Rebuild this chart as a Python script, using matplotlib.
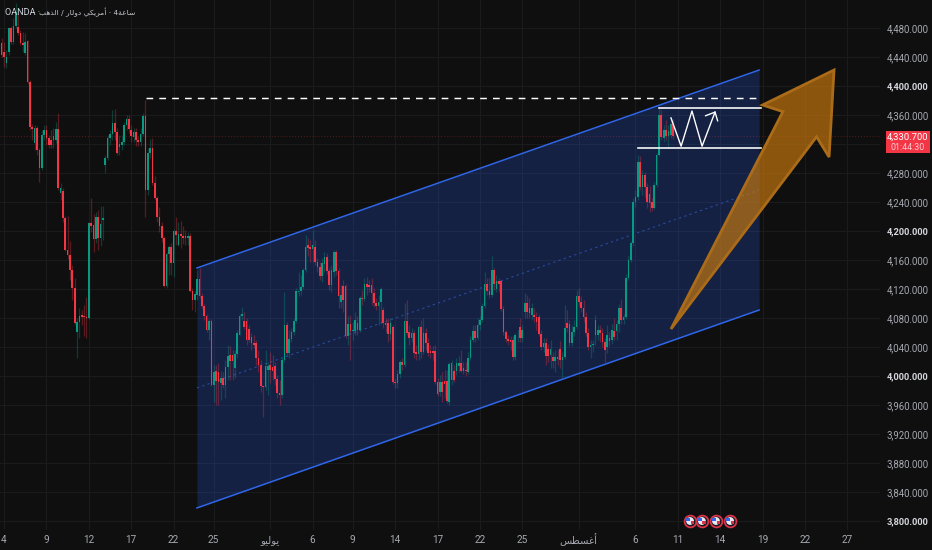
import matplotlib
matplotlib.use("Agg")
import matplotlib.pyplot as plt
from matplotlib.patches import Polygon, Rectangle
import numpy as np

# --- candle data (4h bars, price) ---
first_bar = -1
opens = [4459,4447,4432,4447,4480,4461,4483,4481,4473,4459,
 4446,4462,4405,4343,4321,4342,4312,4287,4332,4339,
 4328,4326,4326,4326,4341,4252,4255,4218,4174,4167,
 4146,4121,4061,4075,4084,4083,4081,4080,4211,4208,
 4189,4219,4190,4215,4291,4301,4328,4334,4349,4337,
 4316,4319,4323,4346,4354,4339,4330,4337,4326,4323,
 4334,4359,4257,4308,4315,4266,4246,4219,4207,4190,
 4124,4168,4178,4156,4200,4181,4196,4193,4193,4191,
 4193,4117,4105,4112,4134,4110,4097,4083,4064,4076,
 3988,4007,4006,3990,3997,3988,4012,4029,4029,4011,
 4030,4057,4083,4076,4076,4065,4054,4046,4046,4025,
 4015,3986,3985,4008,4015,4012,4014,3996,3977,3974,
 4022,4070,4032,4051,4061,4076,4116,4117,4123,4146,
 4181,4178,4175,4178,4157,4150,4138,4155,4164,4145,
 4126,4143,4171,4145,4102,4124,4124,4055,4072,4062,
 4062,4073,4063,4108,4106,4127,4126,4126,4114,4101,
 4097,4102,4091,4073,4073,4058,4068,3992,3990,4003,
 4019,4015,4076,4061,4052,4059,4033,4030,4068,4033,
 4059,4046,4034,4034,4034,3992,3978,3992,3993,3993,
 3964,3994,4007,4007,4014,4018,4011,4008,4005,4025,
 4050,4062,4052,4070,4077,4097,4127,4117,4112,4146,
 4120,4131,4131,4092,4061,4051,4050,4050,4026,4056,
 4068,4052,4088,4101,4094,4084,4084,4081,4081,4058,
 4040,4046,4037,4029,4026,4021,4026,4037,4022,4026,
 4073,4072,4046,4061,4068,4110,4102,4094,4081,4059,
 4040,4043,4057,4057,4063,4059,4047,4040,4052,4050,
 4062,4062,4072,4094,4077,4081,4135,4160,4183,4240,
 4247,4295,4261,4277,4261,4251,4240,4232,4263,4305,
 4360,4328,4339,4331,4332,4348]
closes = [4443,4440,4440,4480,4461,4483,4502,4473,4459,4456,
 4461,4405,4343,4341,4342,4312,4287,4332,4339,4328,
 4319,4319,4331,4341,4259,4259,4218,4174,4167,4146,
 4121,4073,4075,4083,4081,4081,4080,4211,4207,4189,
 4219,4190,4210,4218,4301,4328,4334,4349,4337,4308,
 4320,4323,4346,4354,4341,4331,4337,4326,4323,4334,
 4359,4257,4308,4315,4266,4246,4219,4207,4190,4124,
 4168,4178,4156,4200,4195,4196,4193,4190,4190,4193,
 4117,4105,4113,4134,4110,4097,4083,4064,4076,3988,
 4006,3993,3992,3997,3988,4012,4027,4021,4021,4030,
 4059,4083,4086,4068,4050,4050,4046,4043,4025,4015,
 3986,3985,4014,4014,4008,4007,3996,3977,3974,4022,
 4070,4032,4051,4061,4076,4117,4117,4123,4146,4178,
 4177,4175,4181,4157,4150,4138,4156,4164,4145,4126,
 4146,4171,4145,4110,4112,4105,4055,4072,4062,4063,
 4077,4063,4108,4106,4127,4123,4123,4114,4101,4097,
 4102,4120,4073,4070,4058,4073,3992,3990,4003,4019,
 4015,4076,4059,4052,4059,4032,4030,4068,4033,4059,
 4046,4032,4032,4032,3992,3975,3992,3978,3989,3966,
 4017,4018,3994,4018,4018,4007,4007,4007,4025,4050,
 4062,4052,4070,4077,4097,4127,4117,4112,4146,4127,
 4131,4127,4092,4061,4051,4048,4047,4026,4057,4057,
 4052,4063,4101,4088,4087,4094,4081,4075,4058,4040,
 4046,4028,4028,4037,4021,4026,4023,4022,4026,4066,
 4066,4046,4061,4068,4110,4102,4094,4081,4059,4040,
 4043,4044,4077,4063,4059,4047,4036,4057,4048,4063,
 4054,4072,4094,4077,4081,4135,4160,4183,4240,4247,
 4295,4261,4277,4261,4240,4239,4232,4263,4305,4360,
 4330,4339,4331,4338,4348,4330.7]
highs = [4466,4461,4450,4482,4483,4494,4514,4502,4477,4474,
 4473,4464,4408,4347,4346,4345,4315,4339,4346,4346,
 4332,4339,4342,4350,4363,4266,4259,4221,4221,4186,
 4153,4135,4080,4094,4091,4098,4109,4212,4246,4223,
 4226,4229,4234,4234,4305,4332,4339,4367,4368,4342,
 4332,4332,4350,4360,4360,4346,4342,4342,4331,4342,
 4363,4381,4315,4327,4328,4276,4248,4233,4212,4193,
 4171,4181,4183,4203,4219,4212,4214,4207,4201,4199,
 4197,4121,4119,4146,4149,4114,4099,4086,4079,4079,
 4015,4015,4018,4007,4006,4022,4043,4041,4036,4036,
 4063,4086,4095,4088,4080,4070,4059,4057,4050,4036,
 4022,3988,4036,4019,4033,4029,4019,4001,3995,4025,
 4116,4074,4063,4066,4080,4121,4143,4139,4149,4194,
 4190,4188,4201,4188,4163,4157,4163,4171,4170,4149,
 4153,4174,4174,4149,4125,4132,4127,4083,4084,4074,
 4088,4083,4110,4119,4135,4137,4132,4135,4121,4108,
 4112,4123,4095,4080,4080,4080,4070,3997,4008,4022,
 4025,4101,4105,4070,4066,4063,4043,4070,4077,4080,
 4066,4052,4043,4041,4043,3997,4001,4006,4008,4008,
 4019,4022,4015,4025,4028,4036,4019,4019,4033,4055,
 4070,4070,4080,4083,4101,4143,4135,4135,4165,4149,
 4139,4135,4132,4096,4063,4057,4055,4055,4059,4063,
 4080,4070,4115,4112,4108,4101,4094,4088,4085,4063,
 4052,4052,4044,4050,4033,4036,4036,4048,4033,4098,
 4091,4077,4070,4077,4119,4121,4110,4105,4088,4066,
 4050,4050,4084,4070,4070,4066,4052,4070,4061,4072,
 4080,4077,4100,4106,4085,4141,4166,4186,4245,4257,
 4305,4303,4284,4281,4266,4262,4246,4268,4308,4370,
 4367,4346,4353,4346,4356,4355]
lows = [4440,4426,4425,4443,4458,4458,4480,4470,4456,4447,
 4443,4403,4339,4325,4312,4305,4268,4284,4325,4319,
 4315,4315,4315,4321,4257,4243,4212,4172,4161,4132,
 4105,4070,4025,4052,4070,4055,4052,4079,4199,4171,
 4183,4174,4179,4187,4280,4298,4319,4325,4325,4305,
 4305,4312,4319,4339,4335,4323,4323,4317,4317,4317,
 4331,4219,4250,4301,4263,4243,4212,4199,4185,4123,
 4121,4139,4139,4137,4181,4179,4176,4182,4181,4181,
 4116,4091,4088,4105,4107,4094,4077,4061,4050,3986,
 3964,3960,3960,3967,3983,3970,3994,3994,3994,3997,
 4025,4056,4077,4065,4043,4047,4036,4039,4015,4006,
 3978,3943,3981,3974,3991,3995,3988,3970,3960,3970,
 4019,4029,4025,4047,4057,4073,4110,4112,4120,4143,
 4166,4157,4157,4153,4143,4132,4130,4143,4141,4119,
 4116,4136,4139,4094,4094,4088,4052,4043,4022,4050,
 4057,4057,4061,4098,4103,4112,4116,4098,4095,4091,
 4070,4073,4066,4061,4047,4050,3989,3983,3983,3997,
 4008,4012,4057,4043,4047,4025,4022,4022,4025,4030,
 4036,4028,4025,4022,3989,3972,3972,3964,3970,3963,
 3960,3987,3992,4001,4006,4006,4003,4000,4003,4022,
 4047,4047,4050,4063,4074,4094,4112,4108,4109,4119,
 4116,4116,4090,4057,4047,4043,4036,4022,4022,4047,
 4047,4047,4080,4080,4080,4077,4075,4063,4055,4036,
 4033,4015,4019,4011,4011,4006,4015,4011,3997,4024,
 4061,4041,4041,4055,4065,4097,4088,4075,4055,4036,
 4025,4033,4043,4050,4047,4040,4019,4032,4041,4044,
 4050,4050,4061,4072,4072,4079,4132,4157,4180,4233,
 4243,4257,4250,4247,4232,4226,4228,4230,4261,4303,
 4326,4323,4326,4315,4328,4327]

last_price = 4330.7
countdown = "01:44:30"
price_ticks = [3800,3840,3880,3920,3960,4000,4040,4080,4120,4160,4200,4240,4280,4320,4360,4400,4440,4480]
hidden_price_tick = 4320
bold_prices = [3800,4000,4200,4400]
time_pos = [0,18,36,54,72,89,113,131,148,166,184,202,220,244,268,286,304,322,340,358]
time_lab = ["4","9","12","17","22","25","يوليو","6","9","14","17","22","25","أغسطس","6","11","14","19","22","27"]
title_latin = "OANDA ·"
title_parts = ["الذهب", " / ", "دولار", " ", "أمريكي", " · 4", "ساعة"]

# drawings (bar index, price)
chan_x = [81.9, 320.5]
chan_top = [4149, 4422]
chan_mid = [3983.5, 4256.5]
chan_bot = [3818, 4091]
dash_x, dash_y = [60.3, 320.9], [4383, 4383]
box_top_x, box_top_y = [278, 321.3], [4369, 4369]
box_low_x, box_low_y = [269, 321.3], [4314, 4314]
zig_x = [283.1, 287.4, 292, 296.3, 301.8]
zig_y = [4356, 4317, 4365.5, 4317, 4364]
head_x = [297.8, 301.8, 302.9]
head_y = [4359, 4364, 4352]
arrow_x = [283.1, 330.6, 322, 352.3, 350.2, 344.9]
arrow_y = [4064.8, 4364.6, 4373.8, 4422, 4302, 4330]
flag_x = [291.2, 296.2, 302.2, 308.2]
flag_y = 3800

# --- minimal Arabic display helper (matplotlib has no shaping/bidi) ---
FORMS = {'ا':(0xFE8D,0xFE8E),'أ':(0xFE83,0xFE84),'د':(0xFEA9,0xFEAA),'ذ':(0xFEAB,0xFEAC),
 'ر':(0xFEAD,0xFEAE),'و':(0xFEED,0xFEEE),'ة':(0xFE93,0xFE94),
 'ب':(0xFE8F,0xFE90,0xFE91,0xFE92),'ه':(0xFEE9,0xFEEA,0xFEEB,0xFEEC),'ل':(0xFEDD,0xFEDE,0xFEDF,0xFEE0),
 'م':(0xFEE1,0xFEE2,0xFEE3,0xFEE4),'ي':(0xFEF1,0xFEF2,0xFEF3,0xFEF4),'ك':(0xFED9,0xFEDA,0xFEDB,0xFEDC),
 'س':(0xFEB1,0xFEB2,0xFEB3,0xFEB4),'ع':(0xFEC9,0xFECA,0xFECB,0xFECC),'ط':(0xFEC1,0xFEC2,0xFEC3,0xFEC4),
 'غ':(0xFECD,0xFECE,0xFECF,0xFED0)}
def shape(word):
    if not any(c in FORMS for c in word):
        return word
    out = []
    for k, c in enumerate(word):
        f = FORMS.get(c)
        if f is None:
            out.append(c); continue
        prev = word[k-1] if k > 0 else ''
        nxt = word[k+1] if k+1 < len(word) else ''
        jp = prev in FORMS and len(FORMS[prev]) == 4
        jn = len(f) == 4 and nxt in FORMS
        idx = (1 if jp else 0) if not jn else (3 if jp else 2)
        out.append(chr(f[idx]))
    return ''.join(reversed(out))

BG = "#0f0f0f"; GRID = "#1b1c1e"; UP = "#089981"; DOWN = "#f23645"
W, H = 932, 550; AX_W, AX_H = 880, 530
PX = 2.356; PY = 0.725
plt.rcParams['font.family'] = ['Roboto', 'DejaVu Sans']
fig = plt.figure(figsize=(W/100, H/100), dpi=100, facecolor=BG)
ax = fig.add_axes([0, 1-AX_H/H, AX_W/W, AX_H/H], facecolor=BG)
ax.set_xlim(-4/PX, (AX_W-4)/PX)
ax.set_ylim(3800-9/PY, 3800+521/PY)
for s in ax.spines.values():
    s.set_visible(False)

O, C, Hi, Lo = map(np.array, (opens, closes, highs, lows))
x = np.arange(first_bar, first_bar+len(O))
up = C >= O
cols = np.where(up, UP, DOWN)

ax.set_yticks(price_ticks)
ax.set_yticklabels([("" if p == hidden_price_tick else f"{p:,.3f}") for p in price_ticks])
ax.yaxis.tick_right()
ax.tick_params(axis='y', length=0, pad=5.0, labelsize=6.9, labelcolor="#a6a9b1")
for lab, p in zip(ax.get_yticklabels(), price_ticks):
    if p in bold_prices:
        lab.set_fontweight('bold'); lab.set_color("#d6d8de"); lab.set_fontsize(6.7)
ax.set_xticks(time_pos)
ax.set_xticklabels([shape(t) for t in time_lab])
ax.tick_params(axis='x', length=0, pad=7.2, labelsize=7.2, labelcolor="#a6a9b1")
for lab in ax.get_xticklabels():
    lab.set_va('center')
ax.grid(True, color=GRID, lw=0.7, zorder=0)
ax.set_axisbelow(True)

ax.fill_between(chan_x, chan_bot, chan_top, color="#2962ff", alpha=0.22, lw=0, zorder=1)
ax.plot(chan_x, chan_mid, color="#2f55b8", lw=0.8, ls=(0, (2, 3)), alpha=0.8, zorder=2)
ax.axhline(last_price, color=DOWN, lw=0.7, ls=(0, (1, 2)), alpha=0.3, zorder=2)

for xi, h, l, c in zip(x, Hi, Lo, cols):
    ax.plot([xi, xi], [l, h], color=c, lw=0.9, alpha=0.33, zorder=3, solid_capstyle='butt')
ax.bar(x, np.maximum(np.abs(C-O), 1.2), bottom=np.minimum(O, C), width=0.7, color=cols, lw=0, zorder=4)

ax.plot(chan_x, chan_top, color="#2f66e8", lw=1.1, zorder=5)
ax.plot(chan_x, chan_bot, color="#2f66e8", lw=1.1, zorder=5)
ax.plot(dash_x, dash_y, color="white", lw=1.05, ls=(0, (4.6, 4.2)), zorder=6)
ax.plot(box_top_x, box_top_y, color="white", lw=1.15, zorder=6)
ax.plot(box_low_x, box_low_y, color="white", lw=1.15, zorder=6)
ax.plot(zig_x, zig_y, color="white", lw=1.0, zorder=7)
ax.plot(head_x, head_y, color="white", lw=1.0, zorder=7)
ax.add_patch(Polygon(np.column_stack([arrow_x, arrow_y]), closed=True, facecolor=(0.80, 0.48, 0.05, 0.66),
                     edgecolor="#ab6c1a", lw=2.0, joinstyle='miter', zorder=8))

# event flags
fx = np.array(flag_x); fy = np.full(len(fx), flag_y)
ax.scatter(fx, fy, s=72, facecolor="#16181d", edgecolor="#d9344a", lw=1.3, zorder=9, clip_on=False)
ax.scatter(fx, fy, s=32, facecolor="#e9e9f2", edgecolor="none", zorder=10)
ax.scatter(fx-0.9, fy+2.0, s=7, marker='s', facecolor="#2f66e8", edgecolor="none", zorder=11)
ax.scatter(fx+0.9, fy-2.5, s=5, marker='s', facecolor="#d9344a", edgecolor="none", zorder=11)

# title
fig.text(5/W, 1-12.5/H, title_latin, color="#d1d4dc", fontsize=6.6, va='center', ha='left')
fig.text(39/W, 1-12.5/H, "".join(shape(t) for t in title_parts), color="#c4c6cd", fontsize=5.4,
         va='center', ha='left', family=['DejaVu Sans'])

# last price tag
fig.add_artist(Rectangle((886/W, 1-153/H), 44/W, 22/H, transform=fig.transFigure, facecolor=DOWN, edgecolor='none'))
fig.text(908/W, 1-137/H, f"{last_price:,.3f}", color="white", fontsize=6.8, ha='center', va='center')
fig.text(908/W, 1-147.5/H, countdown, color="#ffc9ce", fontsize=6.4, ha='center', va='center')

fig.savefig("out.png", dpi=100, facecolor=BG)
